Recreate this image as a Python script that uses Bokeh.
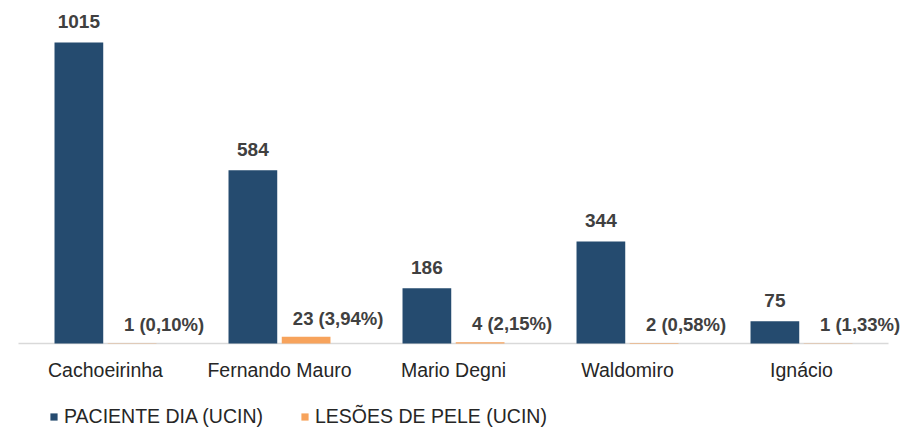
from bokeh.plotting import figure
from bokeh.models import ColumnDataSource, FactorRange, Range1d, Legend, LegendItem, LabelSet
from bokeh.transform import dodge
from bokeh.core.properties import value
from bokeh.embed import file_html
from bokeh.resources import INLINE

categories = ["Cachoeirinha", "Fernando Mauro", "Mario Degni", "Waldomiro", "Ignácio"]
paciente_dia = [1015, 584, 186, 344, 75]
lesoes_pele = [1, 23, 4, 2, 1]
lesoes_labels = ["1 (0,10%)", "23 (3,94%)", "4 (2,15%)", "2 (0,58%)", "1 (1,33%)"]
series_names = ["PACIENTE DIA (UCIN)", "LESÕES DE PELE (UCIN)"]

BLUE = "#254B6F"
ORANGE = "#F7A35C"
FONT = "Liberation Sans"

src = ColumnDataSource(dict(
    cat=categories,
    zero=[0] * len(categories),
    pd=paciente_dia,
    lp=lesoes_pele,
    pd_lbl=[str(v) for v in paciente_dia],
    lp_lbl=lesoes_labels,
))
axis_src = ColumnDataSource(dict(first=[categories[0]], last=[categories[-1]], y=[0]))

# category band = 174 px; 18 px (0.1034 factor units) of padding on each side
p = figure(
    x_range=FactorRange(*categories, range_padding=0.1034, range_padding_units="absolute"),
    y_range=Range1d(-286.6, 1156.5),
    width=919, height=428,
    output_backend="svg", toolbar_location=None,
    min_border_left=0, min_border_right=13, min_border_top=0, min_border_bottom=0,
)

# category axis baseline
p.segment(x0=dodge("first", -0.5, range=p.x_range), y0="y",
          x1=dodge("last", 0.5, range=p.x_range), y1="y",
          source=axis_src, line_color="#D9D9D9", line_width=1.5)

r1 = p.vbar(x=dodge("cat", -0.153, range=p.x_range), top="pd", width=0.28,
            source=src, fill_color=BLUE, line_color=None)
r2 = p.vbar(x=dodge("cat", 0.153, range=p.x_range), top="lp", width=0.28,
            source=src, fill_color=ORANGE, line_color=None)

p.add_layout(LabelSet(x=dodge("cat", -0.153, range=p.x_range), y="pd", text="pd_lbl", source=src,
                      y_offset=14, text_align="center", text_baseline="bottom",
                      text_font=value(FONT), text_font_size="19px", text_font_style="bold",
                      text_color="#404040"))
p.add_layout(LabelSet(x=dodge("cat", 0.153, range=p.x_range), y="lp", text="lp_lbl", source=src,
                      x_offset=32, y_offset=8, text_align="center", text_baseline="bottom",
                      text_font=value(FONT), text_font_size="18.5px", text_font_style="bold",
                      text_color="#404040"))
p.text(x="cat", y="zero", text="cat", source=src,
       y_offset=27, text_align="center", text_baseline="middle",
       text_font=value(FONT), text_font_size="19.5px", text_color="#262626")

legend = Legend(
    items=[LegendItem(label=series_names[0], renderers=[r1]),
           LegendItem(label=series_names[1], renderers=[r2])],
    orientation="horizontal", location=(49, 0),
    glyph_width=9, glyph_height=9, label_height=14, label_standoff=6, spacing=37,
    label_text_font=FONT, label_text_font_size="19.5px", label_text_color="#262626",
    padding=0, margin=0, border_line_alpha=0, background_fill_alpha=0,
)
p.add_layout(legend)

p.xaxis.visible = False
p.yaxis.visible = False
p.xgrid.grid_line_color = None
p.ygrid.grid_line_color = None
p.outline_line_color = None

open("out.html", "w").write(file_html(p, INLINE))
